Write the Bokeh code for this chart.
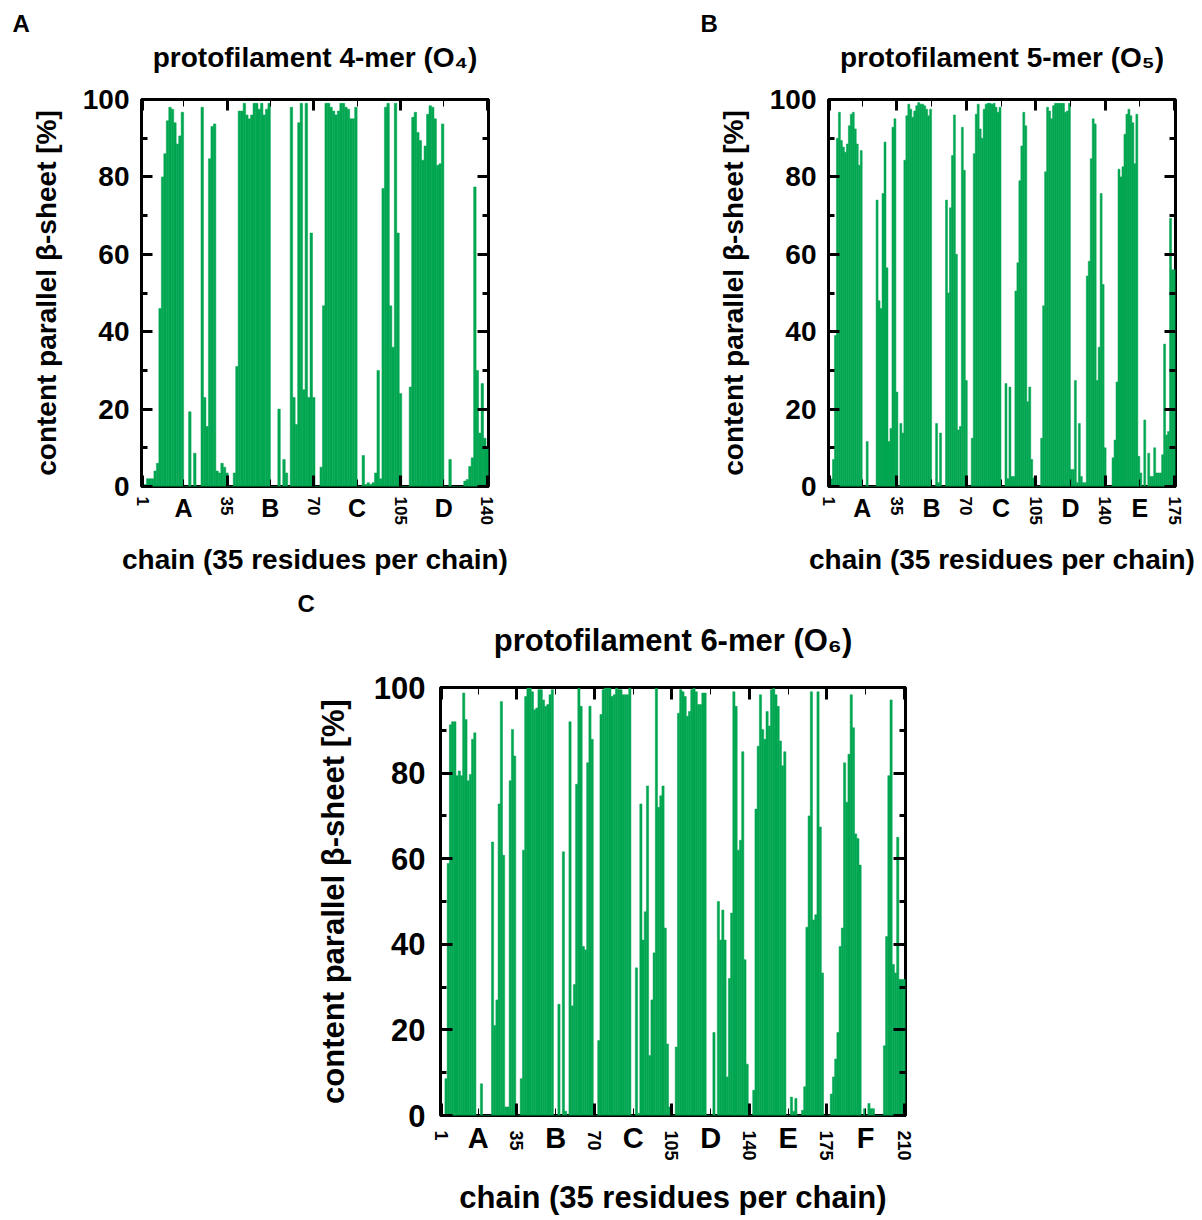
from bokeh.plotting import figure
from bokeh.models import LinearAxis, FixedTicker, Range1d, ColumnDataSource, Title
from bokeh.layouts import column, row
from bokeh.embed import file_html
from bokeh.resources import INLINE

# ------------------------------------------------------------------ data
residues_per_chain = 35
y_ticks = [0, 20, 40, 60, 80, 100]
y_minor_ticks = [10, 30, 50, 70, 90]

o4_chain_letters = ["A", "B", "C", "D"]
o4_tick_labels = ["1", "35", "70", "105", "140"]
o4_A = [0.5, 0.5, 2, 2, 2, 4, 6, 46, 80, 86, 94.5, 98, 97.5, 94, 88.5, 90.6, 96.7, 0, 0, 19.3,
        0, 8.6, 0, 0, 98, 23, 15.5, 84.7, 93, 93.7, 4, 3.5, 6, 5, 3.5]
o4_B = [0, 0, 3.5, 31, 97, 97, 99, 96, 95, 96, 99, 99, 97.5, 99, 96, 97.5, 99, 0, 0, 0,
        20, 0, 7, 3.5, 0, 98, 23, 16, 94, 99, 25, 99, 23, 65.5, 23]
o4_C = [0, 0, 5, 46.7, 99, 99, 98, 97, 96, 97, 99, 99, 98, 97.5, 95, 95, 98, 0, 0, 8,
        0.5, 1, 0.5, 1, 3.5, 30, 2, 77, 98, 99, 46.7, 36, 99, 65.5, 24]
o4_D = [0, 0, 0, 25.7, 95.4, 96.7, 91.5, 89.4, 84.3, 88, 96.2, 98.4, 98, 95, 83, 83.4, 93.7, 0, 0, 7,
        0, 0, 0, 0, 0, 1.4, 1.8, 5.2, 7.4, 77.4, 30, 13.8, 26.6, 12.5, 10]
o4_values = o4_A + o4_B + o4_C + o4_D

o5_chain_letters = ["A", "B", "C", "D", "E"]
o5_tick_labels = ["1", "35", "70", "105", "140", "175"]
o5_A = [0.5, 2, 7, 39, 90, 96.7, 89.4, 87.7, 86.4, 88.5, 93.2, 96.2, 96.7, 92.4, 88.5, 83, 86.8, 0, 0, 11.6,
        0, 0, 0, 0, 74, 48, 46, 75.7, 89, 56.5, 11.6, 15, 92.8, 95, 24.4]
o5_B = [0, 16.3, 13.8, 84.3, 95.8, 98.8, 97.5, 95.4, 97, 98.4, 99.2, 98.8, 98.8, 98.4, 97.5, 95.8, 97.5, 0, 0, 16.3,
        1, 13.8, 0, 0, 74, 50, 72, 85.5, 96, 60, 14.6, 15.5, 92.8, 81.7, 27.4]
o5_C = [0, 0, 12.5, 86, 96.2, 98.8, 92.4, 90, 97.5, 98.8, 99, 99, 98.8, 99, 98, 96.7, 98, 0, 0, 26.6,
        2, 25.7, 2.6, 2.6, 50.5, 57.8, 79, 88, 96.7, 93.2, 21.9, 25.7, 7, 2.2, 1.8]
o5_D = [0, 0, 12.5, 46.7, 81.3, 98, 97, 95, 98.4, 99, 99, 99, 99, 99, 96.7, 97, 99, 4.4, 4.4, 27.4,
        1, 16.3, 2.6, 1, 1, 54.4, 58.2, 84.7, 95, 93.7, 27.4, 36, 75.7, 52.2, 10]
o5_E = [0, 0, 0, 7.4, 12, 27, 82, 80, 82.6, 91, 96.2, 97.5, 95.8, 94, 83.4, 96.2, 7.8, 3.5, 0, 17.2,
        0, 8.6, 2.6, 2.6, 10, 3.5, 3.5, 3.5, 8.2, 36.8, 13.3, 14.2, 69.3, 56, 56]
o5_values = o5_A + o5_B + o5_C + o5_D + o5_E

o6_chain_letters = ["A", "B", "C", "D", "E", "F"]
o6_tick_labels = ["1", "35", "70", "105", "140", "175", "210"]
o6_A = [0, 0, 8.6, 58.9, 91.3, 92, 92, 79.4, 80.5, 79.4, 98.7, 92.5, 78.2, 79.7, 87.9, 89.4, 0, 0, 7.4, 0,
        0, 0, 0, 63.9, 21, 27, 72.8, 96.7, 60.8, 2, 2, 78.2, 90.2, 84, 0]
o6_B = [0, 8.6, 62, 97.9, 99.9, 99.9, 99, 94.8, 95.2, 99.5, 99.5, 97.1, 95.6, 96, 98.3, 99.5, 0, 0, 26, 0,
        61.6, 1, 0, 92, 25.6, 30.6, 77.4, 99.8, 95.6, 39.5, 38.7, 82.4, 95.6, 87.9, 0]
o6_C = [0, 17.5, 93.7, 99.5, 99.9, 99.9, 99.9, 97.9, 98.3, 99.9, 99.5, 99.5, 98.3, 98.3, 98.3, 99.9, 0, 0, 34.5, 0.5,
        72.8, 41, 47.6, 77, 14, 27, 38, 99.8, 72, 74.7, 77, 43.8, 16.7, 2, 0]
o6_D = [0, 16, 94, 99.5, 99, 97.9, 93.3, 94.4, 99.5, 99.8, 99, 96, 96, 98.7, 98.7, 0, 0, 0, 19.4, 0,
        50, 41, 48, 41, 9, 32, 47.3, 99, 95.6, 62, 64.3, 85, 36.4, 12, 0]
o6_E = [0, 5.9, 71.6, 86.3, 98.3, 90.2, 87.9, 94.4, 91, 99.5, 99.8, 98.3, 95.6, 87.5, 81.7, 85, 0, 0, 4.3, 1,
        4, 0, 0, 1.2, 6.7, 44, 70, 99, 45.7, 46.9, 99, 67.4, 33.3, 0, 0]
o6_F = [0, 5, 9, 13.2, 19.4, 39.5, 43.8, 82.4, 73.2, 84.4, 98.3, 90.6, 65.8, 64.7, 58.5, 0, 1.6, 0, 2.8, 1.6,
        1.6, 0, 0, 0, 0, 16.3, 41.8, 79.4, 97.1, 35.3, 33.3, 65, 31.8, 31.8, 31.8]
o6_values = o6_A + o6_B + o6_C + o6_D + o6_E + o6_F

# ------------------------------------------------------------------ style
GREEN = "#00A651"
FONT = "Liberation Sans"

geom_A = dict(bl=141, br=206, bt=99, bb=92, fw=347, fh=387, tick=28, rot=17, lab=28, title=28,
              chain=25, panel=24, ylab_so=12, yaxl_so=18, num_so=10, chain_so=-34, xaxl_so=19,
              tick_len=11, letter_off=-129, title_so=27, letter_so=4)
geom_B = dict(geom_A, bl=134, br=25, letter_off=-128)
geom_C = dict(bl=440, br=295, bt=109, bb=103, fw=465, fh=428, tick=31, rot=18, lab=31, title=31,
              chain=29, panel=24, ylab_so=15, yaxl_so=20, num_so=15, chain_so=-42, xaxl_so=23,
              tick_len=12, letter_off=-143, title_so=30, letter_so=6)


def make_panel(values, chain_letters, tick_labels, title, letter, g):
    n = len(values)
    fw, fh = g["fw"], g["fh"]
    W = g["bl"] + fw + g["br"]
    H = g["bt"] + fh + g["bb"]
    p = figure(width=W, height=H, frame_width=fw, frame_height=fh,
               min_border_left=g["bl"], min_border_right=g["br"],
               min_border_top=g["bt"], min_border_bottom=g["bb"],
               x_range=Range1d(0.5, n + 0.5), y_range=Range1d(0, 100),
               x_axis_type=None, y_axis_type=None,
               output_backend="svg", toolbar_location=None)
    p.outline_line_color = "black"
    p.outline_line_width = 3
    p.background_fill_color = "white"
    p.border_fill_color = "white"

    src = ColumnDataSource(dict(x=list(range(1, n + 1)), top=values))
    p.vbar(x="x", top="top", width=1.0, bottom=0, source=src,
           fill_color=GREEN, line_color=GREEN, line_width=0.5)

    xt_pos = [int(t) for t in tick_labels]
    chain_mid = [residues_per_chain * k + residues_per_chain / 2 for k in range(len(chain_letters))]
    xticker = FixedTicker(ticks=xt_pos, minor_ticks=chain_mid)
    yticker = FixedTicker(ticks=y_ticks, minor_ticks=y_minor_ticks)

    def style(ax, is_x, show):
        ax.axis_line_color = None
        ax.major_tick_in = g["tick_len"]
        ax.major_tick_out = 0
        ax.major_tick_line_width = 3
        ax.major_tick_line_color = "black"
        ax.minor_tick_out = 0
        ax.minor_tick_line_color = "black"
        if is_x:
            ax.minor_tick_in = 7
            ax.minor_tick_line_width = 1
        else:
            ax.minor_tick_in = 6
            ax.minor_tick_line_width = 3
        ax.major_label_text_font = FONT
        ax.major_label_text_font_style = "bold"
        ax.major_label_text_color = "black"
        ax.axis_label_text_font = FONT
        ax.axis_label_text_font_style = "bold"
        ax.axis_label_text_font_size = f"{g['lab']}px"
        ax.axis_label_text_color = "black"
        if not show:
            ticks = xt_pos if is_x else y_ticks
            ax.major_label_overrides = {t: "" for t in ticks}
            ax.major_label_text_font_size = "1px"
            ax.major_label_standoff = 0

    # residue numbers (rotated), directly under the frame
    bottom = LinearAxis(ticker=xticker)
    style(bottom, True, True)
    bottom.major_label_orientation = "vertical"
    bottom.major_label_text_font_size = f"{g['rot']}px"
    bottom.major_label_standoff = g["num_so"]
    bottom.major_label_overrides = {int(t): t for t in tick_labels}
    p.add_layout(bottom, "below")

    # chain letters, lifted into the same band as the residue numbers
    chains = LinearAxis(ticker=FixedTicker(ticks=chain_mid, minor_ticks=[]),
                        axis_label="chain (35 residues per chain)")
    chains.axis_line_color = None
    chains.major_tick_in = 0
    chains.major_tick_out = 0
    chains.minor_tick_in = 0
    chains.minor_tick_out = 0
    chains.major_tick_line_color = None
    chains.minor_tick_line_color = None
    chains.major_label_overrides = {m: c for m, c in zip(chain_mid, chain_letters)}
    chains.major_label_text_font = FONT
    chains.major_label_text_font_style = "bold"
    chains.major_label_text_font_size = f"{g['chain']}px"
    chains.major_label_text_color = "black"
    chains.major_label_standoff = g["chain_so"]
    chains.axis_label_text_font = FONT
    chains.axis_label_text_font_style = "bold"
    chains.axis_label_text_font_size = f"{g['lab']}px"
    chains.axis_label_text_color = "black"
    chains.axis_label_standoff = g["xaxl_so"]
    p.add_layout(chains, "below")

    # top frame ticks; the panel heading sits on this axis as its label
    top = LinearAxis(ticker=xticker, axis_label=title)
    style(top, True, False)
    top.axis_label_text_font_size = f"{g['title']}px"
    top.axis_label_standoff = g["title_so"]
    p.add_layout(top, "above")

    left = LinearAxis(ticker=yticker, axis_label="content parallel β-sheet [%]")
    style(left, False, True)
    left.major_label_text_font_size = f"{g['tick']}px"
    left.major_label_standoff = g["ylab_so"]
    left.axis_label_standoff = g["yaxl_so"]
    p.add_layout(left, "left")

    right = LinearAxis(ticker=yticker)
    style(right, False, False)
    p.add_layout(right, "right")

    p.add_layout(Title(text=letter, align="left", offset=g["letter_off"], text_font=FONT,
                       text_font_style="bold", text_font_size=f"{g['panel']}px",
                       text_color="black", standoff=g["letter_so"]), "above")
    return p


pA = make_panel(o4_values, o4_chain_letters, o4_tick_labels, "protofilament 4-mer (O\u2084)", "A", geom_A)
pB = make_panel(o5_values, o5_chain_letters, o5_tick_labels, "protofilament 5-mer (O\u2085)", "B", geom_B)
pC = make_panel(o6_values, o6_chain_letters, o6_tick_labels, "protofilament 6-mer (O\u2086)", "C", geom_C)

layout = column(row(pA, pB), pC)
open("out.html", "w").write(file_html(layout, INLINE))
